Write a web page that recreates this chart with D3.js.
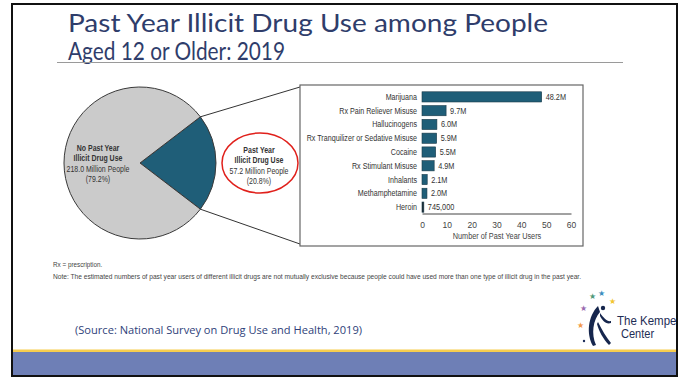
<!DOCTYPE html>
<html>
<head>
<meta charset="utf-8">
<script src="https://cdn.jsdelivr.net/npm/d3@7"></script>
<style>
  html, body { margin: 0; padding: 0; background: #ffffff; }
  svg { display: block; }
  .narrow { font-family: "Liberation Sans", Arial, sans-serif; }
</style>
</head>
<body>
<svg id="chart" width="685" height="378"></svg>
<script>
// ---- data ----
const pieLabels = ["Past Year Illicit Drug Use", "No Past Year Illicit Drug Use"];
const pieValues = [57.2, 218.0];
const piePercents = ["20.8%", "79.2%"];
const categories = ["Marijuana", "Rx Pain Reliever Misuse", "Hallucinogens",
  "Rx Tranquilizer or Sedative Misuse", "Cocaine", "Rx Stimulant Misuse",
  "Inhalants", "Methamphetamine", "Heroin"];
const usersMillions = [48.2, 9.7, 6.0, 5.9, 5.5, 4.9, 2.1, 2.0, 0.745];
const valueLabels = ["48.2M", "9.7M", "6.0M", "5.9M", "5.5M", "4.9M", "2.1M", "2.0M", "745,000"];
const xTicks = [0, 10, 20, 30, 40, 50, 60];

const svg = d3.select("#chart");
const W = 685, H = 378;

// condense a text selection horizontally (narrow-font look)
function condense(sel, k) {
  sel.each(function () {
    const len = this.getComputedTextLength();
    d3.select(this).attr("textLength", len * k).attr("lengthAdjust", "spacingAndGlyphs");
  });
}

// background band & yellow line
svg.append("rect").attr("x", 12).attr("y", 352).attr("width", 665).attr("height", 24).attr("fill", "#6e7fb6");
svg.append("rect").attr("x", 12).attr("y", 349.5).attr("width", 665).attr("height", 2.5).attr("fill", "#f7cd4f");

// title
const navy = "#2f3d6b";
svg.append("text").attr("x", 68).attr("y", 32).attr("fill", navy)
  .style("font-family", "Lato, 'Open Sans', sans-serif").style("font-size", "25px")
  .attr("textLength", 480).attr("lengthAdjust", "spacingAndGlyphs")
  .text("Past Year Illicit Drug Use among People");
svg.append("text").attr("x", 68).attr("y", 59.5).attr("fill", navy)
  .style("font-family", "Lato, 'Open Sans', sans-serif").style("font-size", "25px")
  .attr("textLength", 217).attr("lengthAdjust", "spacingAndGlyphs")
  .text("Aged 12 or Older: 2019");
svg.append("line").attr("x1", 57).attr("x2", 623).attr("y1", 62.5).attr("y2", 62.5)
  .attr("stroke", "#9a9a9a").attr("stroke-width", 1);

// ---- pie ----
const cx = 140, cy = 163, r = 76;
const total = d3.sum(pieValues);
const half = Math.PI * pieValues[0] / total;
const pie = d3.pie().sort(null).value(d => d)
  .startAngle(Math.PI / 2 - half).endAngle(Math.PI / 2 - half + 2 * Math.PI);
const arcs = pie(pieValues);
const arc = d3.arc().innerRadius(0).outerRadius(r);
const pieColors = ["#1f5e78", "#cbcbcb"];
const gp = svg.append("g").attr("transform", `translate(${cx},${cy})`);
gp.selectAll("path").data(arcs).join("path")
  .attr("d", arc).attr("fill", (d, i) => pieColors[i])
  .attr("stroke", "#3a3a3a").attr("stroke-width", 1);

// bar box geometry
const box = { x0: 300, y0: 85, x1: 583, y1: 246 };

// connector lines
const a0 = arcs[0].startAngle, a1 = arcs[0].endAngle;
const p0 = [cx + r * Math.sin(a0), cy - r * Math.cos(a0)];
const p1 = [cx + r * Math.sin(a1), cy - r * Math.cos(a1)];
svg.append("line").attr("x1", p0[0]).attr("y1", p0[1]).attr("x2", box.x0).attr("y2", box.y0 + 2)
  .attr("stroke", "#333").attr("stroke-width", 1);
svg.append("line").attr("x1", p1[0]).attr("y1", p1[1]).attr("x2", box.x0).attr("y2", box.y1 - 2)
  .attr("stroke", "#333").attr("stroke-width", 1);

// pie labels
const lab = svg.append("g").attr("class", "narrow").attr("fill", "#333").style("font-size", "8.3px").attr("text-anchor", "middle");
const leftLines = [["No Past Year", true], ["Illicit Drug Use", true], ["218.0 Million People", false], ["(" + piePercents[1] + ")", false]];
leftLines.forEach((l, i) => {
  lab.append("text").attr("x", 98).attr("y", 151 + i * 10.3).style("font-weight", l[1] ? "bold" : "normal").text(l[0]);
});
const rightLines = [["Past Year", true], ["Illicit Drug Use", true], ["57.2 Million People", false], ["(" + piePercents[0] + ")", false]];
rightLines.forEach((l, i) => {
  lab.append("text").attr("x", 259).attr("y", 153 + i * 10.3).style("font-weight", l[1] ? "bold" : "normal").text(l[0]);
});
condense(lab.selectAll("text"), 0.84);
svg.append("ellipse").attr("cx", 260).attr("cy", 163).attr("rx", 38).attr("ry", 30)
  .attr("fill", "none").attr("stroke", "#e0201b").attr("stroke-width", 1.5);

// ---- bar chart ----
svg.append("rect").attr("x", box.x0).attr("y", box.y0).attr("width", box.x1 - box.x0).attr("height", box.y1 - box.y0)
  .attr("fill", "#fff").attr("stroke", "#666").attr("stroke-width", 1.2);

const x = d3.scaleLinear().domain([0, 60]).range([422, 571]);
const y = d3.scaleBand().domain(categories).range([90, 214]).paddingInner(0.26).paddingOuter(0.13);

const gb = svg.append("g").attr("class", "narrow");
gb.selectAll("rect.bar").data(categories).join("rect").attr("class", "bar")
  .attr("x", x(0)).attr("y", d => y(d)).attr("height", y.bandwidth())
  .attr("width", (d, i) => Math.max(1.5, x(usersMillions[i]) - x(0)))
  .attr("fill", (d, i) => usersMillions[i] < 1 ? "#1a2a33" : "#1f5e78")
  .attr("stroke", "#1b3a48").attr("stroke-width", 0.6);
gb.selectAll("text.cat").data(categories).join("text").attr("class", "cat")
  .attr("x", x(0) - 5).attr("y", d => y(d) + y.bandwidth() / 2).attr("dy", "0.35em")
  .attr("text-anchor", "end").attr("fill", "#333").style("font-size", "8.5px").text(d => d)
  .call(condense, 0.84);
gb.selectAll("text.val").data(categories).join("text").attr("class", "val")
  .attr("x", (d, i) => x(usersMillions[i]) + 4).attr("y", d => y(d) + y.bandwidth() / 2).attr("dy", "0.35em")
  .attr("fill", "#333").style("font-size", "8.5px").text((d, i) => valueLabels[i])
  .call(condense, 0.86);

const axis = d3.axisBottom(x).tickValues(xTicks).tickSize(0).tickPadding(8).tickFormat(d3.format("d"));
const ga = svg.append("g").attr("class", "narrow").attr("transform", "translate(0,213.5)").call(axis);
ga.select(".domain").attr("stroke", "#444").attr("stroke-width", 1);
ga.selectAll("text").attr("fill", "#444").style("font-size", "8.5px")
  .style("font-family", "'Liberation Sans',Arial,sans-serif");
svg.append("text").attr("class", "narrow").attr("x", 497).attr("y", 239).attr("text-anchor", "middle")
  .attr("fill", "#444").style("font-size", "8.5px").text("Number of Past Year Users")
  .call(condense, 0.86);

// footnotes
svg.append("text").attr("class", "narrow").attr("x", 53).attr("y", 266.5).attr("fill", "#444")
  .style("font-size", "7px").text("Rx = prescription.").call(condense, 0.9);
svg.append("text").attr("class", "narrow").attr("x", 53).attr("y", 278.5).attr("fill", "#444")
  .style("font-size", "6.5px").attr("textLength", 528).attr("lengthAdjust", "spacingAndGlyphs")
  .text("Note: The estimated numbers of past year users of different illicit drugs are not mutually exclusive because people could have used more than one type of illicit drug in the past year.");

// source
svg.append("text").attr("x", 75).attr("y", 334).attr("fill", "#2f3f7a")
  .style("font-family", "'Open Sans', Lato, sans-serif").style("font-size", "11px")
  .attr("textLength", 287).attr("lengthAdjust", "spacingAndGlyphs")
  .text("(Source: National Survey on Drug Use and Health, 2019)");

// logo
const logo = svg.append("g");
[[583, 308, "#9a6bb0"], [592, 296, "#4f9a7a"], [601, 293, "#3b8fc0"], [612, 301, "#f2c531"], [580, 325, "#f39a4a"]].forEach(s => {
  logo.append("text").attr("x", s[0]).attr("y", s[1]).attr("text-anchor", "middle").attr("dy", "0.35em")
    .attr("fill", s[2]).style("font-size", "8px").text("\u2605");
});
logo.append("circle").attr("cx", 584).attr("cy", 341).attr("r", 1.2).attr("fill", "#1e2f5a");
logo.append("circle").attr("cx", 603).attr("cy", 308).attr("r", 2.2).attr("fill", "#16264d");
logo.append("path").attr("d", "M598,306 C588,316 586,334 593,346 L596,345 C591,334 593,320 600,312 Z").attr("fill", "#16264d");
logo.append("path").attr("d", "M600,313 C604,318 607,322 611,321 L611,323 C606,325 602,320 600,316 Z").attr("fill", "#16264d");
logo.append("path").attr("d", "M598,322 C602,330 606,337 611,343 L609,345 C603,339 599,331 597,324 Z").attr("fill", "#16264d");
logo.append("text").attr("x", 617).attr("y", 325).attr("fill", "#1e2d55")
  .style("font-family", "'Liberation Sans', Arial, sans-serif").style("font-size", "12.5px").text("The Kempe")
  .call(condense, 0.92);
logo.append("text").attr("x", 621).attr("y", 338).attr("fill", "#1e2d55")
  .style("font-family", "'Liberation Sans', Arial, sans-serif").style("font-size", "12px").text("Center")
  .call(condense, 0.92);

// outer frame (white outside, black border)
svg.append("rect").attr("x", 678).attr("y", 0).attr("width", 7).attr("height", H).attr("fill", "#fff");
svg.append("rect").attr("x", 0).attr("y", 0).attr("width", 11).attr("height", H).attr("fill", "#fff");
svg.append("rect").attr("x", 12).attr("y", 4).attr("width", 665).attr("height", 372)
  .attr("fill", "none").attr("stroke", "#111").attr("stroke-width", 2);
</script>
</body>
</html>
